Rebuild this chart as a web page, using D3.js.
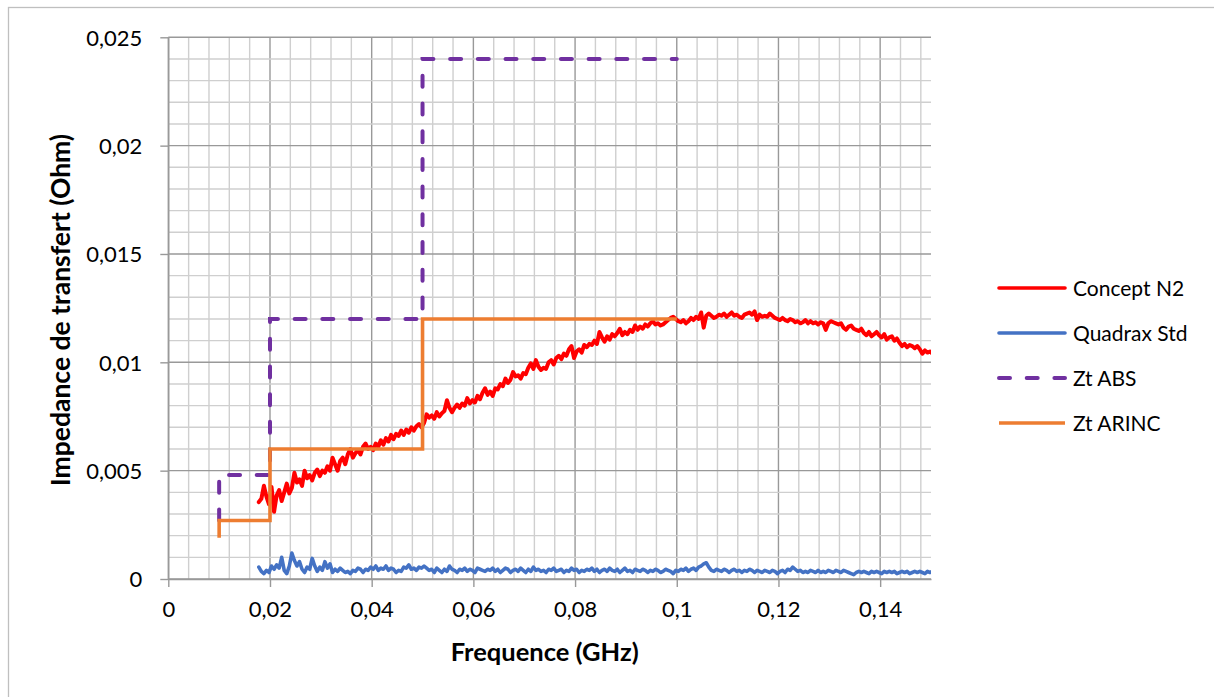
<!DOCTYPE html>
<html lang="fr">
<head>
<meta charset="UTF-8" />
<script src="https://d3js.org/d3.v7.min.js"></script>
<title>Impedance de transfert</title>
<style>
  body { margin: 0; background: #fff; }
  text { font-family: Lato, "Open Sans", sans-serif; fill: #000; }
</style>
</head>
<body>
<script>
// sweep grid of the measurements (GHz)
var sweepStart = 0.0178, sweepStep = 0.0005;

var conceptN2 = [
0.00355,0.00370,0.00430,0.00380,0.00345,0.00425,0.00310,0.00385,0.00410,0.00360,
0.00400,0.00440,0.00395,0.00420,0.00490,0.00445,0.00460,0.00430,0.00500,0.00465,
0.00480,0.00455,0.00490,0.00505,0.00475,0.00500,0.00490,0.00520,0.00500,0.00560,
0.00530,0.00500,0.00545,0.00560,0.00530,0.00575,0.00600,0.00560,0.00580,0.00595,
0.00575,0.00610,0.00625,0.00600,0.00610,0.00595,0.00625,0.00610,0.00640,0.00620,
0.00650,0.00635,0.00665,0.00645,0.00670,0.00660,0.00685,0.00665,0.00690,0.00675,
0.00700,0.00685,0.00705,0.00715,0.00700,0.00720,0.00760,0.00745,0.00755,0.00740,
0.00770,0.00750,0.00765,0.00775,0.00825,0.00790,0.00770,0.00790,0.00805,0.00790,
0.00810,0.00800,0.00835,0.00810,0.00825,0.00815,0.00845,0.00830,0.00860,0.00880,
0.00850,0.00865,0.00845,0.00880,0.00875,0.00900,0.00890,0.00925,0.00905,0.00920,
0.00955,0.00935,0.00940,0.00925,0.00950,0.00945,0.00975,0.00995,0.00970,0.01010,
0.00980,0.00965,0.00975,0.00970,0.01000,0.01010,0.00990,0.01020,0.01030,0.01015,
0.01040,0.01030,0.01060,0.01075,0.01020,0.01050,0.01060,0.01045,0.01080,0.01070,
0.01085,0.01080,0.01100,0.01085,0.01140,0.01115,0.01095,0.01120,0.01105,0.01130,
0.01120,0.01135,0.01155,0.01125,0.01140,0.01130,0.01150,0.01140,0.01170,0.01150,
0.01165,0.01155,0.01175,0.01165,0.01180,0.01190,0.01175,0.01180,0.01170,0.01175,
0.01185,0.01195,0.01205,0.01210,0.01200,0.01190,0.01185,0.01195,0.01180,0.01190,
0.01205,0.01195,0.01210,0.01200,0.01230,0.01160,0.01215,0.01225,0.01215,0.01205,
0.01210,0.01220,0.01215,0.01225,0.01210,0.01220,0.01230,0.01215,0.01220,0.01210,
0.01205,0.01220,0.01225,0.01230,0.01220,0.01235,0.01195,0.01220,0.01210,0.01215,
0.01210,0.01225,0.01215,0.01205,0.01200,0.01195,0.01205,0.01195,0.01190,0.01200,
0.01195,0.01185,0.01190,0.01180,0.01185,0.01195,0.01180,0.01190,0.01180,0.01185,
0.01175,0.01185,0.01180,0.01150,0.01180,0.01190,0.01185,0.01180,0.01175,0.01180,
0.01160,0.01150,0.01165,0.01170,0.01155,0.01150,0.01145,0.01155,0.01135,0.01125,
0.01140,0.01120,0.01130,0.01140,0.01125,0.01115,0.01130,0.01105,0.01115,0.01120,
0.01100,0.01110,0.01090,0.01075,0.01085,0.01070,0.01080,0.01075,0.01065,0.01075,
0.01060,0.01040,0.01055,0.01045,0.01050,0.01040
];

var quadraxStd = [
0.00055,0.00035,0.00025,0.00040,0.00030,0.00060,0.00045,0.00065,0.00050,0.00100,
0.00040,0.00025,0.00060,0.00120,0.00085,0.00060,0.00080,0.00045,0.00030,0.00055,
0.00045,0.00095,0.00060,0.00035,0.00055,0.00040,0.00080,0.00050,0.00070,0.00030,
0.00045,0.00035,0.00050,0.00040,0.00030,0.00035,0.00025,0.00040,0.00035,0.00050,
0.00045,0.00030,0.00045,0.00040,0.00055,0.00045,0.00060,0.00040,0.00050,0.00045,
0.00060,0.00040,0.00050,0.00045,0.00030,0.00040,0.00035,0.00055,0.00050,0.00065,
0.00045,0.00050,0.00040,0.00055,0.00050,0.00060,0.00050,0.00040,0.00045,0.00030,
0.00050,0.00040,0.00030,0.00045,0.00035,0.00060,0.00045,0.00040,0.00030,0.00045,
0.00040,0.00050,0.00035,0.00045,0.00040,0.00030,0.00050,0.00045,0.00040,0.00035,
0.00045,0.00040,0.00050,0.00035,0.00045,0.00030,0.00040,0.00050,0.00045,0.00030,
0.00040,0.00045,0.00035,0.00050,0.00040,0.00030,0.00045,0.00035,0.00055,0.00040,
0.00045,0.00035,0.00040,0.00030,0.00045,0.00040,0.00050,0.00035,0.00040,0.00045,
0.00030,0.00040,0.00035,0.00050,0.00040,0.00045,0.00030,0.00040,0.00035,0.00045,
0.00040,0.00050,0.00035,0.00045,0.00030,0.00040,0.00045,0.00035,0.00050,0.00040,
0.00035,0.00045,0.00030,0.00040,0.00050,0.00035,0.00040,0.00030,0.00045,0.00040,
0.00035,0.00045,0.00040,0.00030,0.00040,0.00035,0.00045,0.00040,0.00030,0.00035,
0.00045,0.00040,0.00035,0.00025,0.00040,0.00035,0.00045,0.00040,0.00050,0.00035,
0.00045,0.00050,0.00040,0.00055,0.00060,0.00070,0.00075,0.00055,0.00040,0.00035,
0.00045,0.00040,0.00035,0.00045,0.00040,0.00030,0.00040,0.00045,0.00035,0.00040,
0.00030,0.00040,0.00035,0.00045,0.00040,0.00030,0.00040,0.00035,0.00030,0.00040,
0.00035,0.00030,0.00040,0.00035,0.00025,0.00035,0.00040,0.00030,0.00045,0.00040,
0.00055,0.00045,0.00035,0.00040,0.00030,0.00035,0.00030,0.00040,0.00035,0.00030,
0.00040,0.00030,0.00035,0.00030,0.00040,0.00035,0.00030,0.00040,0.00035,0.00030,
0.00040,0.00035,0.00030,0.00025,0.00020,0.00030,0.00035,0.00030,0.00035,0.00030,
0.00025,0.00035,0.00030,0.00035,0.00030,0.00025,0.00035,0.00030,0.00035,0.00030,
0.00035,0.00025,0.00030,0.00035,0.00030,0.00035,0.00025,0.00030,0.00035,0.00030,
0.00035,0.00030,0.00025,0.00035,0.00030,0.00035
];

// limit templates (step vertices)
var absFreq   = [0.01, 0.01, 0.02, 0.02, 0.05, 0.05, 0.1];
var absVal    = [0.0027, 0.0048, 0.0048, 0.012, 0.012, 0.024, 0.024];
var arincFreq = [0.01, 0.01, 0.02, 0.02, 0.05, 0.05, 0.1];
var arincVal  = [0.0019, 0.0027, 0.0027, 0.006, 0.006, 0.012, 0.012];

var xTicks = [0, 0.02, 0.04, 0.06, 0.08, 0.1, 0.12, 0.14];
var yTicks = [0, 0.005, 0.01, 0.015, 0.02, 0.025];
var seriesNames = ["Concept N2", "Quadrax Std", "Zt ABS", "Zt ARINC"];

var W = 1214, H = 697;
var pL = 168.3, pR = 931, pT = 37.3, pB = 579;

var svg = d3.select("body").append("svg").attr("width", W).attr("height", H);

// chart frame (runs off the right/bottom edge like the original)
svg.append("rect").attr("x", 8.5).attr("y", 7.5).attr("width", W).attr("height", H)
  .attr("fill", "none").attr("stroke", "#bfbfbf").attr("stroke-width", 1.3);

var x = d3.scaleLinear().domain([0, 0.15]).range([pL, pR]);
var y = d3.scaleLinear().domain([0, 0.025]).range([pB, pT]);

var fr = d3.formatLocale({decimal: ",", thousands: " ", grouping: [3], currency: ["", ""]});
var fmt = fr.format("~g");

// grid
var grid = svg.append("g");
var xMinor = d3.range(0, 38).map(function(i){ return +(i * 0.004).toFixed(3); });
var yMinor = d3.range(0, 26).map(function(i){ return +(i * 0.001).toFixed(3); });
grid.selectAll(".xm").data(xMinor).enter().append("line")
  .attr("x1", function(d){ return x(d); }).attr("x2", function(d){ return x(d); })
  .attr("y1", pT).attr("y2", pB)
  .attr("stroke", function(d){ return xTicks.indexOf(d) >= 0 ? "#999" : "#cfcfcf"; })
  .attr("stroke-width", 1.4);
grid.selectAll(".ym").data(yMinor).enter().append("line")
  .attr("x1", pL).attr("x2", pR)
  .attr("y1", function(d){ return y(d); }).attr("y2", function(d){ return y(d); })
  .attr("stroke", function(d){ return yTicks.indexOf(d) >= 0 ? "#999" : "#cfcfcf"; })
  .attr("stroke-width", 1.4);

// axes
var xAxis = svg.append("g").attr("transform", "translate(0," + pB + ")")
  .call(d3.axisBottom(x).tickValues(xTicks).tickFormat(fmt).tickSize(8).tickPadding(14).tickSizeOuter(0));
var yAxis = svg.append("g").attr("transform", "translate(" + pL + ",0)")
  .call(d3.axisLeft(y).tickValues(yTicks).tickFormat(fmt).tickSize(8).tickPadding(18).tickSizeOuter(0));
[xAxis, yAxis].forEach(function(a){
  a.select(".domain").attr("stroke", "#999").attr("stroke-width", 1.4);
  a.selectAll(".tick line").attr("stroke", "#999").attr("stroke-width", 1.4);
  a.selectAll(".tick text").style("font-family", "Lato, 'Open Sans', sans-serif")
    .style("font-size", "22px").attr("fill", "#000");
});
yAxis.selectAll(".tick text").attr("dy", "0.36em");

// plot clip
svg.append("clipPath").attr("id", "clip").append("rect")
  .attr("x", pL).attr("y", pT - 5).attr("width", pR - pL).attr("height", pB - pT + 10);

var plot = svg.append("g").attr("clip-path", "url(#clip)");

var sweepLine = d3.line()
  .x(function(d, i){ return x(sweepStart + i * sweepStep); })
  .y(function(d){ return y(d); });
var stepLine = d3.line()
  .x(function(d){ return x(d[0]); })
  .y(function(d){ return y(d[1]); });

plot.append("path").datum(conceptN2).attr("d", sweepLine)
  .attr("fill", "none").attr("stroke", "#ff0000").attr("stroke-width", 4)
  .attr("stroke-linejoin", "round").attr("stroke-linecap", "round");
plot.append("path").datum(quadraxStd).attr("d", sweepLine)
  .attr("fill", "none").attr("stroke", "#4472c4").attr("stroke-width", 3.6)
  .attr("stroke-linejoin", "round").attr("stroke-linecap", "round");
plot.append("path").datum(d3.zip(absFreq, absVal)).attr("d", stepLine)
  .attr("fill", "none").attr("stroke", "#7030a0").attr("stroke-width", 4)
  .attr("stroke-dasharray", "11,16.7").attr("stroke-linecap", "round");
plot.append("path").datum(d3.zip(arincFreq, arincVal)).attr("d", stepLine)
  .attr("fill", "none").attr("stroke", "#ed7d31").attr("stroke-width", 3.6);

// legend
var legColors = ["#ff0000", "#4472c4", "#7030a0", "#ed7d31"];
var leg = svg.append("g").selectAll("g").data(seriesNames).enter().append("g")
  .attr("transform", function(d, i){ return "translate(0," + (288 + i * 45) + ")"; });
leg.append("line").attr("x1", 999).attr("x2", 1065).attr("y1", 0).attr("y2", 0)
  .attr("stroke", function(d, i){ return legColors[i]; })
  .attr("stroke-width", function(d, i){ return i === 2 ? 4 : 3.6; })
  .attr("stroke-linecap", function(d, i){ return i === 3 ? "butt" : "round"; })
  .attr("stroke-dasharray", function(d, i){ return i === 2 ? "11,16.7" : null; });
leg.append("text").attr("x", 1073).attr("y", 0).attr("dy", "0.36em")
  .style("font-size", "21px").text(function(d){ return d; });

// axis titles
svg.append("text").attr("x", (pL + pR) / 2 - 5).attr("y", 661)
  .attr("text-anchor", "middle").style("font-size", "25.5px").style("font-weight", "bold")
  .text("Frequence (GHz)");
svg.append("text").attr("transform", "translate(70," + 310 + ") rotate(-90)")
  .attr("text-anchor", "middle").style("font-size", "26.5px").style("font-weight", "bold")
  .text("Impedance de transfert (Ohm)");
</script>
</body>
</html>
